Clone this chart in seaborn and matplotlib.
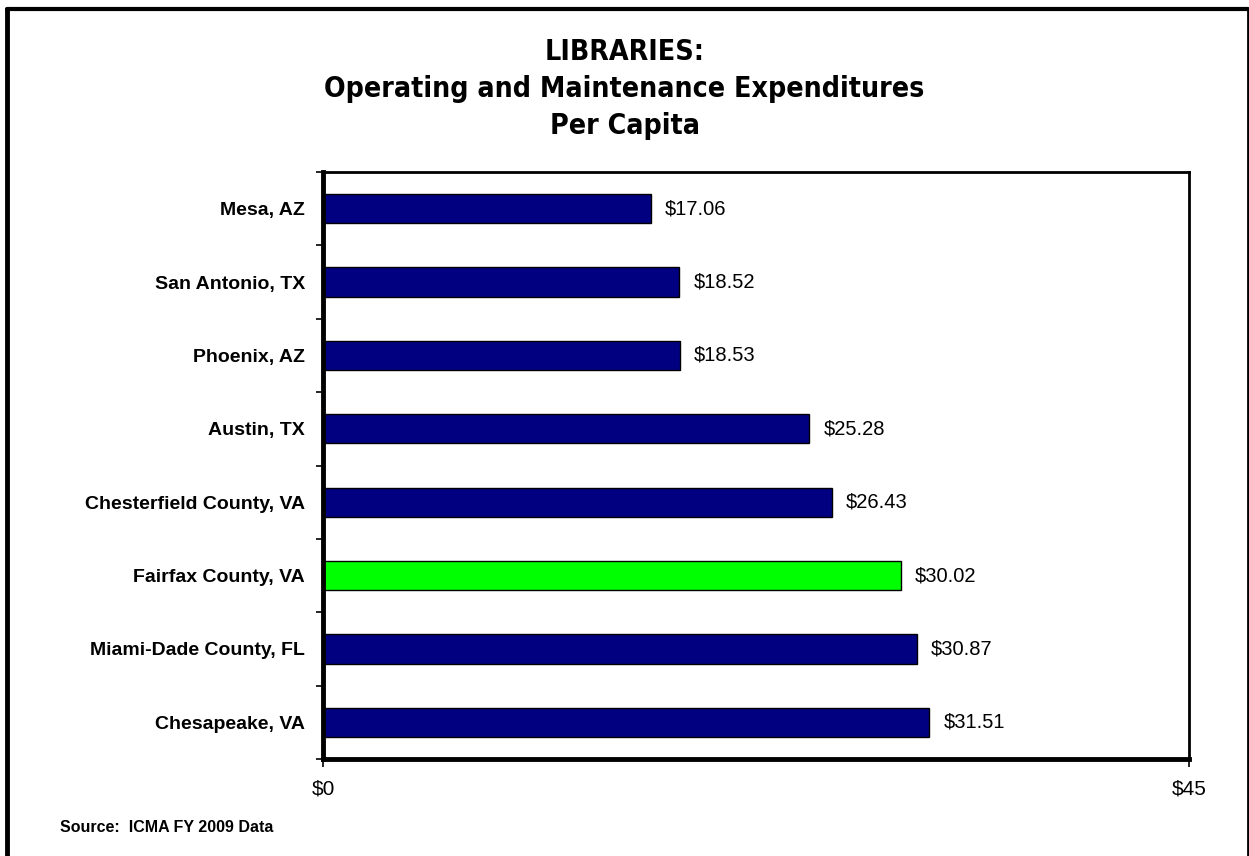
import matplotlib
matplotlib.use("Agg")
import matplotlib.pyplot as plt
import seaborn as sns
import pandas as pd
from matplotlib.lines import Line2D

cities = ["Mesa, AZ", "San Antonio, TX", "Phoenix, AZ", "Austin, TX",
          "Chesterfield County, VA", "Fairfax County, VA",
          "Miami-Dade County, FL", "Chesapeake, VA"]
values = [17.06, 18.52, 18.53, 25.28, 26.43, 30.02, 30.87, 31.51]
highlight = ["no", "no", "no", "no", "no", "yes", "no", "no"]
x_ticks = [0, 45]
x_tick_labels = ["$0", "$45"]
title_lines = ["LIBRARIES:", "Operating and Maintenance Expenditures", "Per Capita"]
source_text = "Source:  ICMA FY 2009 Data"

sns.set_theme(style="white", rc={"text.color": "black", "axes.labelcolor": "black",
                                 "xtick.color": "black", "ytick.color": "black"})
plt.rcParams['font.family'] = ['Liberation Sans', 'DejaVu Sans']

df = pd.DataFrame({"city": cities, "value": values, "hl": highlight})

W, H = 1249, 856
fig = plt.figure(figsize=(W / 100, H / 100), dpi=100)
ax = fig.add_axes([323 / W, 1 - 759 / H, (1189 - 323) / W, (759 - 172) / H])

sns.barplot(data=df, x="value", y="city", hue="hl", order=cities,
            palette={"no": "#000080", "yes": "#00FF00"}, dodge=False, saturation=1,
            width=0.4, edgecolor="black", linewidth=1, legend=False, ax=ax)

ax.set_xlim(0, 45)
ax.set_ylim(7.5, -0.5)
ax.set_xlabel("")
ax.set_ylabel("")
ax.set_xticks(x_ticks)
ax.set_xticklabels(x_tick_labels, fontsize=15)
ax.tick_params(axis="x", direction="out", length=6, width=1.2, pad=9, color="black", bottom=True)
ax.tick_params(axis="y", which="major", length=0, pad=13, labelsize=14)
ax.set_yticks([i - 0.5 for i in range(len(cities) + 1)], minor=True)
ax.tick_params(axis="y", which="minor", direction="out", length=5, width=1.2, color="black", left=True)
for lab in ax.get_yticklabels():
    lab.set_fontweight("bold")

for side in ["top", "right"]:
    ax.spines[side].set_color("black")
    ax.spines[side].set_linewidth(2)
for side in ["left", "bottom"]:
    ax.spines[side].set_color("black")
    ax.spines[side].set_linewidth(3.5)

for cont in ax.containers:
    ax.bar_label(cont, labels=[f"${v:.2f}" if v == v and v > 0 else "" for v in cont.datavalues],
                 padding=10, fontsize=14.5, color="black")

# title: condensed heavy look
title_family = ['DejaVu Sans', 'Liberation Sans']
ys = [52, 89, 126]
texts = []
for line, yp in zip(title_lines, ys):
    t = fig.text(0.5, 1 - yp / H, line, ha="center", va="center", fontsize=22,
                 fontweight="bold", fontstretch="condensed", family=title_family)
    texts.append(t)
fig.canvas.draw()
r = fig.canvas.get_renderer()
wmid = texts[1].get_window_extent(r).width
scale = 597 / wmid
for t in texts:
    t.set_fontsize(22 * scale)

fig.text(60 / W, 1 - 827 / H, source_text, ha="left", va="center",
         fontsize=11.5, fontweight="bold")

# outer frame: top, left, right (bottom edge cut off in the original)
fr = fig.transFigure
fig.lines.append(Line2D([7 / W, 7 / W], [0, 1 - 9 / H], transform=fr, color="black", linewidth=3.5))
fig.lines.append(Line2D([7 / W, 1247.5 / W], [1 - 9 / H, 1 - 9 / H], transform=fr, color="black", linewidth=3))
fig.lines.append(Line2D([1247.5 / W, 1247.5 / W], [0, 1 - 9 / H], transform=fr, color="black", linewidth=2))

fig.savefig("out.png", dpi=100)
